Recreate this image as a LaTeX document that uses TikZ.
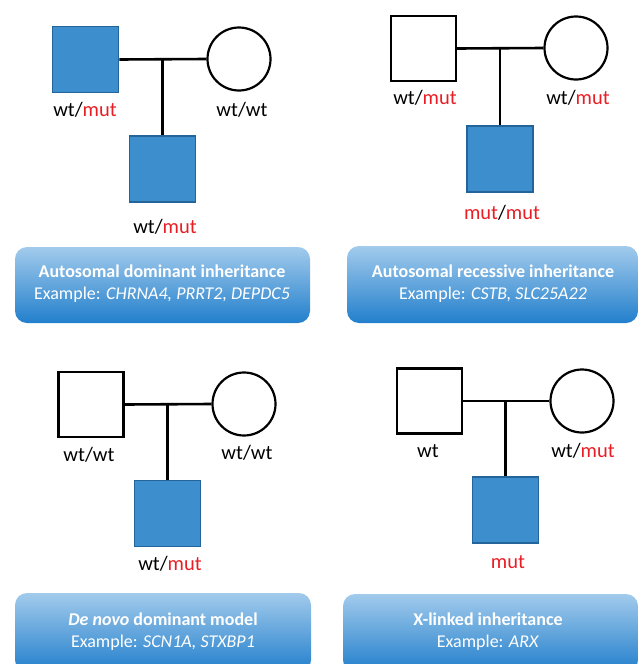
\documentclass[tikz,border=0pt]{standalone}
\usepackage{fontspec}
\setmainfont{Carlito}
\definecolor{fillblue}{RGB}{61,142,204}
\definecolor{edgeblue}{RGB}{35,100,155}
\definecolor{mutred}{RGB}{232,30,36}
\definecolor{boxtop}{RGB}{162,203,236}
\definecolor{boxbot}{RGB}{34,127,204}
\newcommand{\mutx}[1]{\textcolor{mutred}{#1}}
\begin{document}
\begin{tikzpicture}[x=1pt,y=-1pt,
  male/.style={draw=black, line width=2.2pt, minimum size=65pt, inner sep=0pt, fill=white},
  affected/.style={draw=edgeblue, line width=1.6pt, minimum size=66pt, inner sep=0pt, fill=fillblue},
  female/.style={circle, draw=black, line width=2.2pt, minimum size=63pt, inner sep=0pt, fill=white},
  geno/.style={font=\fontsize{20.5}{24}\selectfont, inner sep=0pt},
  link/.style={line width=2.6pt},
  infobox/.style={rounded corners=12pt, top color=boxtop, bottom color=boxbot, draw=none, inner sep=0pt},
  boxtext/.style={text=white, align=center, font=\fontsize{18}{22}\selectfont, inner sep=0pt}]
\useasboundingbox (0,0) rectangle (638,664);
% Panel 1
\node[affected] (f1) at (85.5,59.5) {};
\node[female] (m1) at (239,59) {};
\node[affected] (c1) at (162.5,169) {};
\coordinate (j1) at (f1.east -| c1.north);
\draw[link] (f1.east) -- (m1.west);
\draw[link] (j1) -- (c1.north);
\node[geno] (lf1) at (85,110) {wt/\mutx{mut}};
\node[geno] (lm1) at (242,110) {wt/wt};
\node[geno] (lc1) at (165,227) {wt/\mutx{mut}};
% Panel 2
\node[male] (f2) at (423.5,48.5) {};
\node[female] (m2) at (576,48) {};
\node[affected] (c2) at (500,159) {};
\coordinate (j2) at (f2.east -| c2.north);
\draw[link] (f2.east) -- (m2.west);
\draw[link] (j2) -- (c2.north);
\node[geno] (lf2) at (425,98) {wt/\mutx{mut}};
\node[geno] (lm2) at (578,98) {wt/\mutx{mut}};
\node[geno] (lc2) at (502,213) {\mutx{mut}/\mutx{mut}};
% Panel 3
\node[male] (f3) at (91,404.5) {};
\node[female] (m3) at (244,404) {};
\node[affected] (c3) at (167.5,513.5) {};
\coordinate (j3) at (f3.east -| c3.north);
\draw[link] (f3.east) -- (m3.west);
\draw[link] (j3) -- (c3.north);
\node[geno] (lf3) at (89,455) {wt/wt};
\node[geno] (lm3) at (247,453) {wt/wt};
\node[geno] (lc3) at (170,564) {wt/\mutx{mut}};
% Panel 4
\node[male] (f4) at (429.5,401) {};
\node[female] (m4) at (582,401) {};
\node[affected] (c4) at (505.5,510) {};
\coordinate (j4) at (f4.east -| c4.north);
\draw[link] (f4.east) -- (m4.west);
\draw[link] (j4) -- (c4.north);
\node[geno] (lf4) at (428,451) {wt};
\node[geno] (lm4) at (583,451) {wt/\mutx{mut}};
\node[geno] (lc4) at (508,562) {\mutx{mut}};
% Boxes
\node[infobox, minimum width=295pt, minimum height=76pt] (b1) at (162.5,285) {};
\node[boxtext] (t1) at (162,284) {\textbf{Autosomal dominant inheritance}\\Example: \textit{CHRNA4, PRRT2, DEPDC5}};
\node[infobox, minimum width=291pt, minimum height=77pt] (b2) at (492.5,284.5) {};
\node[boxtext] (t2) at (493,284) {\textbf{Autosomal recessive inheritance}\\Example: \textit{CSTB, SLC25A22}};
\node[infobox, minimum width=296pt, minimum height=79pt] (b3) at (163,632.5) {};
\node[boxtext] (t3) at (163,632) {\textbf{\textit{De novo} dominant model}\\Example: \textit{SCN1A, STXBP1}};
\node[infobox, minimum width=295pt, minimum height=78pt] (b4) at (490.5,633) {};
\node[boxtext] (t4) at (488,632) {\textbf{X-linked inheritance}\\Example: \textit{ARX}};
\end{tikzpicture}
\end{document}
